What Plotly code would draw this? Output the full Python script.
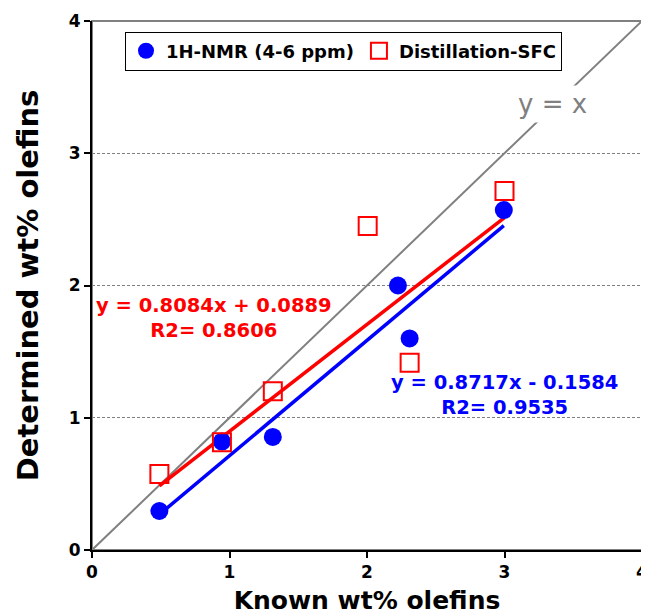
import plotly.graph_objects as go

# Data
known_nmr = [0.49, 0.945, 1.315, 2.225, 2.31, 2.995]
det_nmr = [0.295, 0.82, 0.855, 2.0, 1.60, 2.57]
known_sfc = [0.49, 0.945, 1.315, 2.005, 2.31, 3.0]
det_sfc = [0.575, 0.815, 1.20, 2.45, 1.415, 2.715]

fit_nmr = {"slope": 0.8717, "intercept": -0.1584, "r2": 0.9535}
fit_sfc = {"slope": 0.8084, "intercept": 0.0889, "r2": 0.8606}

identity_x = [0, 4]
tick_vals = [0, 1, 2, 3, 4]

FONT = "DejaVu Sans, Liberation Sans, Arial, sans-serif"
BLUE = "#0000FF"
RED = "#FF0000"
GRAY = "#808080"

fig = go.Figure()

# y = x
fig.add_trace(go.Scatter(x=identity_x, y=identity_x, mode="lines",
                         line=dict(color=GRAY, width=2), showlegend=False, hoverinfo="skip"))

# fit lines
def fit_line(xs, fit):
    x0, x1 = min(xs), max(xs)
    return [x0, x1], [fit["slope"] * x0 + fit["intercept"], fit["slope"] * x1 + fit["intercept"]]

fx, fy = fit_line(known_nmr, fit_nmr)
fig.add_trace(go.Scatter(x=fx, y=fy, mode="lines", line=dict(color=BLUE, width=3.5),
                         showlegend=False, hoverinfo="skip"))
fx, fy = fit_line(known_sfc, fit_sfc)
fig.add_trace(go.Scatter(x=fx, y=fy, mode="lines", line=dict(color=RED, width=3.5),
                         showlegend=False, hoverinfo="skip"))

fig.add_trace(go.Scatter(x=known_nmr, y=det_nmr, mode="markers", name="1H-NMR (4-6 ppm)",
                         marker=dict(symbol="circle", size=18, color=BLUE, line=dict(width=0))))
fig.add_trace(go.Scatter(x=known_sfc, y=det_sfc, mode="markers", name="Distillation-SFC",
                         marker=dict(symbol="square-open", size=18, color=RED, line=dict(width=2, color=RED))))

def eq_text(fit):
    sign = "+" if fit["intercept"] >= 0 else "-"
    return f"y = {fit['slope']:.4f}x {sign} {abs(fit['intercept']):.4f}<br>R2= {fit['r2']:.4f}"

fig.add_annotation(x=0.885, y=1.755, xref="x", yref="y", text=eq_text(fit_sfc), showarrow=False,
                   font=dict(family=FONT, size=19.5, color=RED, weight="bold"), align="center")
fig.add_annotation(x=3.0, y=1.17, xref="x", yref="y", text=eq_text(fit_nmr), showarrow=False,
                   font=dict(family=FONT, size=19.5, color=BLUE, weight="bold"), align="center")
fig.add_annotation(x=3.35, y=3.375, xref="x", yref="y", text="y = x", showarrow=False,
                   font=dict(family=FONT, size=26, color=GRAY), bgcolor="white", borderpad=3)

fig.add_shape(type="rect", xref="paper", yref="paper", x0=0, y0=0, x1=1, y1=1,
              line=dict(color=GRAY, width=2), layer="below")

# the page body has an 8px margin, so the figure is sized/offset to compensate
fig.update_layout(
    width=641, height=607,
    margin=dict(l=84, r=7, t=13, b=65, autoexpand=False),
    paper_bgcolor="white", plot_bgcolor="white",
    font=dict(family=FONT, color="black"),
    legend=dict(orientation="h", x=0.06, y=0.98, xanchor="left", yanchor="top",
                bgcolor="white", bordercolor="black", borderwidth=1,
                font=dict(family=FONT, size=18, weight="bold"), itemwidth=30,
                tracegroupgap=0),
    xaxis=dict(range=[0, 4], tickvals=tick_vals, showgrid=False, zeroline=False, automargin=False,
               showline=True, linecolor="black", linewidth=2, ticks="outside", ticklen=6,
               tickwidth=2, tickcolor="black",
               tickfont=dict(family=FONT, size=17, weight="bold"),
               title=dict(text="Known wt% olefins", font=dict(family=FONT, size=25, weight="bold"))),
    yaxis=dict(range=[0, 4], tickvals=tick_vals, showgrid=True, gridcolor=GRAY, griddash="3px,2px",
               gridwidth=1, zeroline=False, automargin=False,
               showline=True, linecolor="black", linewidth=2, ticks="outside", ticklen=6,
               tickwidth=2, tickcolor="black",
               tickfont=dict(family=FONT, size=17, weight="bold"),
               title=dict(text="Determined wt% olefins", standoff=22,
                          font=dict(family=FONT, size=29, weight="bold"))),
)

fig.write_html("out.html")
